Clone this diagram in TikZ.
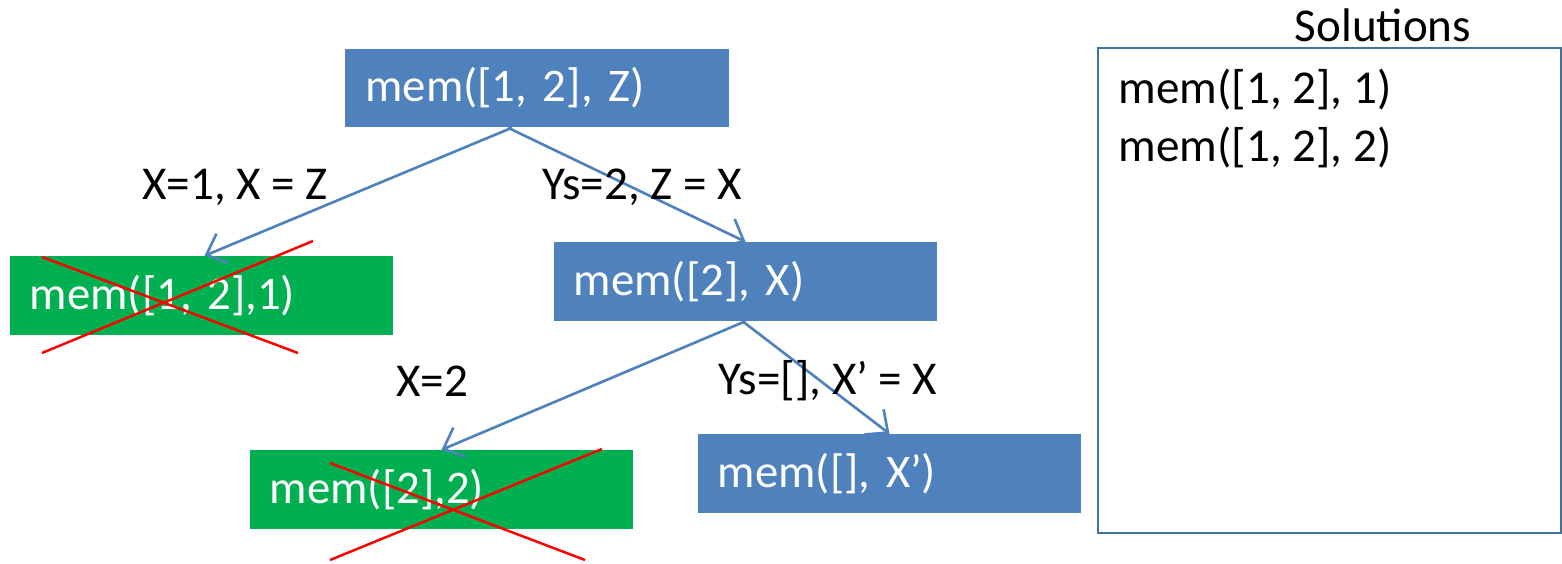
\documentclass[tikz,border=0pt]{standalone}
\usepackage{fontspec}
\setmainfont{Carlito}
\definecolor{GoalBlue}{HTML}{4F81BD}
\definecolor{FailGreen}{HTML}{00B050}
\definecolor{FrameBlue}{HTML}{41719C}
\usetikzlibrary{positioning, arrows.meta, calc}

\begin{document}
\begin{tikzpicture}[x=0.01cm, y=-0.01cm,
  goal/.style={minimum width=3.83cm, minimum height=0.78cm, inner sep=0pt,
               text width=3.43cm, align=left, text=white, fill=GoalBlue,
               font=\fontsize{13.3}{16}\selectfont},
  fail/.style={goal, fill=FailGreen},
  lbl/.style={font=\fontsize{13.4}{16}\selectfont, inner sep=0pt},
  arr/.style={-{Straight Barb[length=5pt, width=9pt]}, GoalBlue, line width=0.75pt},
  cross/.style={red, line width=0.7pt},
]
  \useasboundingbox (0,0) rectangle (1562,563);

  \node[goal] (root) at (537,88) {mem([1, 2], Z)};
  \node[fail] (left) at (201.5,295.5) {mem([1, 2],1)};
  \node[goal] (right) at (745.5,281.5) {mem([2], X)};
  \node[fail] (rleft) at (441.5,489.5) {mem([2],2)};
  \node[goal] (rright) at (889.5,473.5) {mem([], X’)};

  \draw[arr] ([xshift=-0.25cm]root.south) -- ([xshift=0.03cm]left.north);
  \draw[arr] ([xshift=-0.29cm]root.south) -- (right.north);
  \draw[arr] (right.south) -- (rleft.north);
  \draw[arr] ([xshift=-0.03cm]right.south) -- (rright.north);

  \node[lbl] (lblA) at (235,187) {X=1, X = Z};
  \node[lbl] (lblB) at (642,187) {Ys=2, Z = X};
  \node[lbl] (lblC) at (432,381) {X=2};
  \node[lbl] (lblD) at (828,381) {Ys=[], X’ = X};

  % crossed-out branches
  \draw[cross] (42,257) -- (298,353);
  \draw[cross] (42,353) -- (313,241);
  \draw[cross] (330,463) -- (585,560);
  \draw[cross] (330,560) -- (602,449);

  % solutions
  \node[draw=FrameBlue, line width=0.6pt, minimum width=4.63cm, minimum height=4.85cm,
        inner sep=0pt] (sols) at (1329.5,290.5) {};
  \node[lbl] (solt) at (1383,25) {Solutions};
  \node[lbl, anchor=west] (solA) at (1118,90) {mem([1, 2], 1)};
  \node[lbl, anchor=west] (solB) at (1118,148) {mem([1, 2], 2)};
\end{tikzpicture}
\end{document}
